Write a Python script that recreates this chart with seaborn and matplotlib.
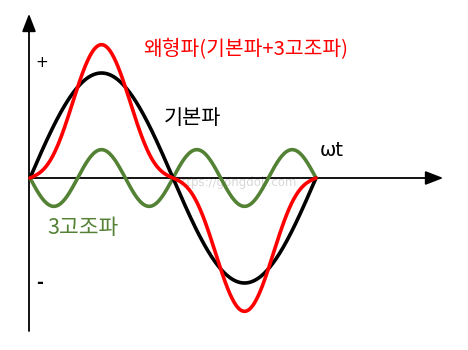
import numpy as np
import pandas as pd
import matplotlib
matplotlib.use("Agg")
import matplotlib.pyplot as plt
import seaborn as sns

# ---- data (wave parameters) ----
fund_amp = 1.0          # 기본파 amplitude
harm_amp = 0.27         # 3고조파 amplitude (opposite phase)
harm_order = 3
n_points = 400

labels = ["왜형파(기본파+3고조파)", "기본파", "3고조파"]
axis_labels = ["ωt", "+", "-"]
watermark = "https://gongdoli.com"

theta = np.linspace(0, 2 * np.pi, n_points)
fund = fund_amp * np.sin(theta)
harm = -harm_amp * np.sin(harm_order * theta)
dist = fund + harm

df = pd.DataFrame({"theta": np.concatenate([theta] * 3),
                   "y": np.concatenate([fund, harm, dist]),
                   "wave": ["fund"] * n_points + ["harm"] * n_points + ["dist"] * n_points})

sns.set_theme(style="white")
plt.rcParams["font.family"] = ["Noto Sans CJK KR", "DejaVu Sans"]

W, H = 468, 350
fig = plt.figure(figsize=(W / 100, H / 100), dpi=100)
ax = fig.add_axes([0, 0, 1, 1])

# pixel mapping: origin at (30,178); 2*pi -> 286 px; amplitude 1 -> 105 px
x0, y0, px_per_rad, px_per_amp = 30, 178, 286 / (2 * np.pi), 105
ax.set_xlim(-x0 / px_per_rad, (W - x0) / px_per_rad)
ax.set_ylim(-(H - y0) / px_per_amp, y0 / px_per_amp)
ax.axis("off")

def px(x, y):
    return ((x - x0) / px_per_rad, (y0 - y) / px_per_amp)

# axes with arrows
ax.plot(*zip(px(29, 331), px(29, 20)), color="black", lw=1.3, zorder=1)
ax.annotate("", xy=px(29, 11), xytext=px(29, 22),
            arrowprops=dict(arrowstyle="-|>,head_length=0.9,head_width=0.35", color="black", lw=1.3))
ax.plot(*zip(px(29, 178), px(436, 178)), color="black", lw=1.3, zorder=1)
ax.annotate("", xy=px(446, 178), xytext=px(434, 178),
            arrowprops=dict(arrowstyle="-|>,head_length=0.9,head_width=0.35", color="black", lw=1.3))

palette = {"fund": "#000000", "harm": "#548235", "dist": "#ff0000"}
sns.lineplot(data=df, x="theta", y="y", hue="wave", palette=palette,
             hue_order=["harm", "fund", "dist"], linewidth=2.6, legend=False,
             ax=ax, sort=False, estimator=None)

ax.text(*px(143, 50), labels[0], color="#ff0000", fontsize=14.7, va="center", ha="left")
ax.text(*px(164, 118), labels[1], color="black", fontsize=15, va="center", ha="left")
ax.text(*px(47, 228), labels[2], color="#548235", fontsize=15.5, va="center", ha="left")
ax.text(*px(320, 151), axis_labels[0], color="black", fontsize=14, va="center", ha="left",
        family=["DejaVu Sans"])
ax.text(*px(42, 63), axis_labels[1], color="black", fontsize=11, va="center", ha="center",
        family=["DejaVu Sans"])
ax.text(*px(40, 283), axis_labels[2], color="black", fontsize=12, va="center", ha="center",
        family=["DejaVu Sans"], fontweight="bold")
ax.text(*px(236, 183), watermark, color="#d8d8d8", fontsize=8.5, va="center", ha="center",
        family=["DejaVu Sans"], zorder=0)

fig.savefig("out.png", dpi=100)
